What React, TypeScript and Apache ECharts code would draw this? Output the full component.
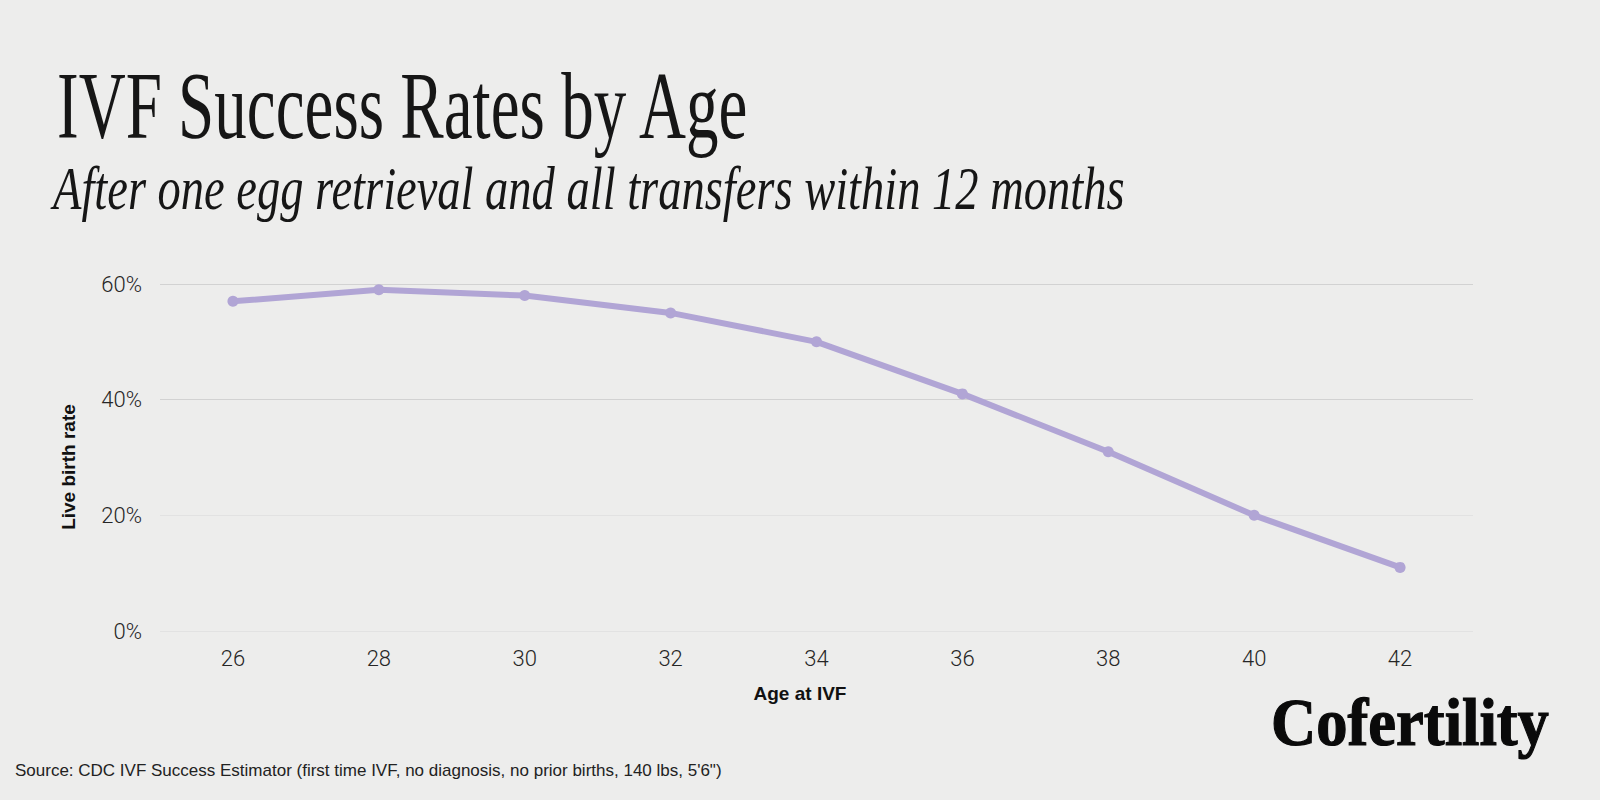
import React, { useEffect, useRef } from "react";
import * as echarts from "echarts";

const ages: string[] = ["26", "28", "30", "32", "34", "36", "38", "40", "42"];
const liveBirthRates: number[] = [57, 59, 58, 55, 50, 41, 31, 20, 11];
const yTicks = { min: 0, max: 60, interval: 20 };

const titleText = "IVF Success Rates by Age";
const subtitleText = "After one egg retrieval and all transfers within 12 months";
const sourceText =
  "Source: CDC IVF Success Estimator (first time IVF, no diagnosis, no prior births, 140 lbs, 5'6\")";
const logoText = "Cofertility";
const yName = "Live birth rate";
const xName = "Age at IVF";

export default function App() {
  const ref = useRef<HTMLDivElement>(null);

  useEffect(() => {
    if (!ref.current) return;
    const chart = echarts.init(ref.current, undefined, { renderer: "svg" });
    const sans = "'Liberation Sans', Arial, Helvetica, sans-serif";
    const serif = "'Liberation Serif', 'Times New Roman', serif";
    chart.setOption({
      animation: false,
      backgroundColor: "#ededec",
      grid: { left: 160, right: 127, top: 284, bottom: 169 },
      xAxis: {
        type: "category",
        data: ages,
        boundaryGap: true,
        axisLine: { show: false },
        axisTick: { show: false },
        axisLabel: {
          margin: 16,
          fontSize: 22,
          fontFamily: "Roboto, sans-serif",
          fontWeight: 300,
          color: "#262626",
        },
        splitLine: { show: false },
      },
      yAxis: {
        type: "value",
        min: yTicks.min,
        max: yTicks.max,
        interval: yTicks.interval,
        axisLine: { show: false },
        axisTick: { show: false },
        axisLabel: {
          margin: 18,
          fontSize: 22,
          fontFamily: "Roboto, sans-serif",
          fontWeight: 300,
          color: "#262626",
          formatter: "{value}%",
        },
        splitLine: {
          show: true,
          lineStyle: {
            color: ["#e2e2e2", "#e2e2e2", "#d2d2d2", "#d2d2d2"],
            width: 1,
          },
        },
      },
      series: [
        {
          type: "line",
          data: liveBirthRates,
          symbol: "circle",
          symbolSize: 11,
          lineStyle: { color: "#b1a5d5", width: 6 },
          itemStyle: { color: "#b1a5d5" },
        },
      ],
      graphic: [
        {
          type: "text",
          x: 57,
          y: 106,
          scaleX: 0.685,
          style: {
            text: titleText,
            fontFamily: serif,
            fontSize: 95,
            fill: "#161616",
            verticalAlign: "middle",
            align: "left",
          },
        },
        {
          type: "text",
          x: 53,
          y: 188,
          scaleX: 0.75,
          style: {
            text: subtitleText,
            fontFamily: serif,
            fontStyle: "italic",
            fontSize: 62,
            fill: "#161616",
            verticalAlign: "middle",
            align: "left",
          },
        },
        {
          type: "text",
          x: 68,
          y: 467,
          rotation: Math.PI / 2,
          style: {
            text: yName,
            fontFamily: sans,
            fontWeight: "bold",
            fontSize: 19,
            fill: "#111111",
            verticalAlign: "middle",
            align: "center",
          },
        },
        {
          type: "text",
          x: 800,
          y: 693,
          style: {
            text: xName,
            fontFamily: sans,
            fontWeight: "bold",
            fontSize: 19,
            fill: "#111111",
            verticalAlign: "middle",
            align: "center",
          },
        },
        {
          type: "text",
          x: 1271,
          y: 722,
          scaleX: 0.92,
          style: {
            text: logoText,
            fontFamily: serif,
            fontWeight: "bold",
            fontSize: 68,
            fill: "#0a0a0a",
            stroke: "#0a0a0a",
            lineWidth: 1.2,
            verticalAlign: "middle",
            align: "left",
          },
        },
        {
          type: "text",
          x: 15,
          y: 770,
          style: {
            text: sourceText,
            fontFamily: sans,
            fontSize: 17,
            fill: "#222222",
            verticalAlign: "middle",
            align: "left",
          },
        },
      ],
    });
    return () => chart.dispose();
  }, []);

  return (
    <div
      ref={ref}
      style={{ position: "absolute", left: 0, top: 0, width: 1600, height: 800 }}
    />
  );
}
